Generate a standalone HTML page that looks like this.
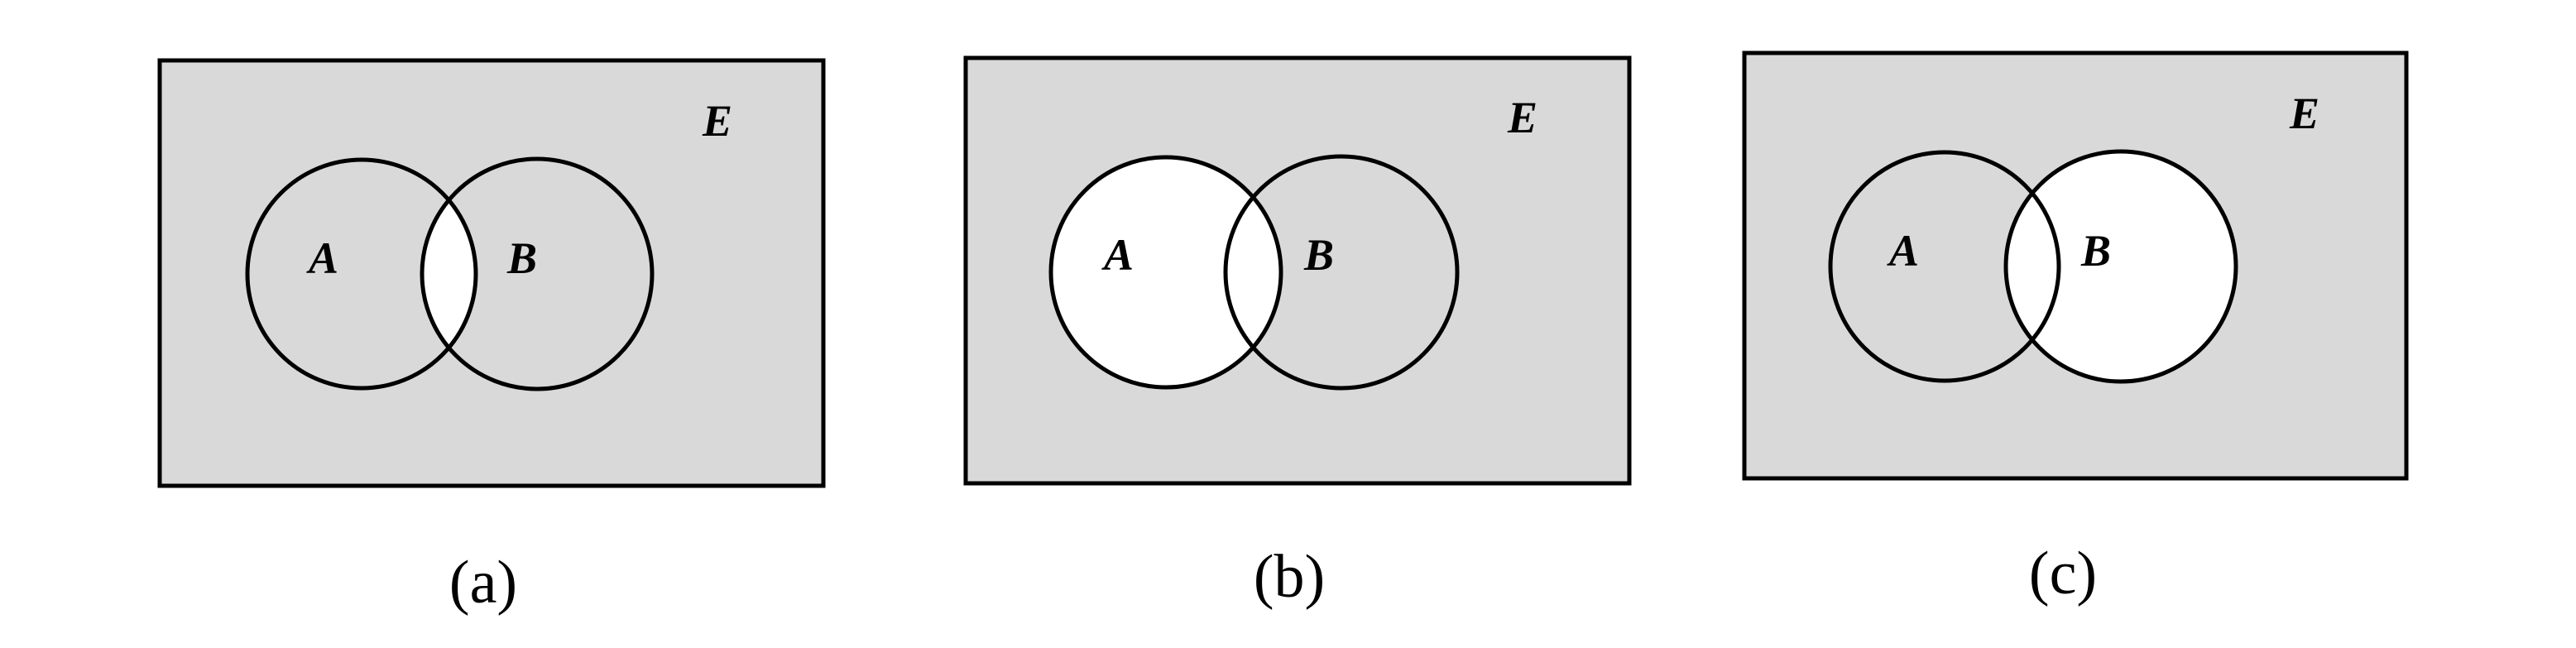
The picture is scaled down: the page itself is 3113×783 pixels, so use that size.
<!DOCTYPE html>
<html><head><meta charset="utf-8"><style>
html,body{margin:0;padding:0;background:#fff;}
svg{display:block;}
.lbl{font-family:"Liberation Serif",serif;font-style:italic;font-weight:bold;font-size:54px;fill:#000;text-anchor:middle;}
.cap{font-family:"Liberation Serif",serif;font-size:74px;fill:#000;text-anchor:middle;}
</style></head><body>
<svg width="3113" height="783" viewBox="0 0 3113 783" xmlns="http://www.w3.org/2000/svg">
<defs>
<clipPath id="clipA1"><circle cx="437" cy="331" r="138"/></clipPath>
</defs>
<g>
<rect x="193" y="73" width="802" height="514" fill="#d9d9d9" stroke="#000" stroke-width="5"/>
<circle cx="649" cy="331" r="139" fill="#fff" clip-path="url(#clipA1)"/>
<circle cx="437" cy="331" r="138" fill="none" stroke="#000" stroke-width="5"/>
<circle cx="649" cy="331" r="139" fill="none" stroke="#000" stroke-width="5"/>
<text class="lbl" x="391" y="330">A</text>
<text class="lbl" x="631" y="330">B</text>
<text class="lbl" x="867" y="164">E</text>
<text class="cap" x="584" y="728">(a)</text>
</g>
<g>
<rect x="1167" y="70" width="802" height="514" fill="#d9d9d9" stroke="#000" stroke-width="5"/>
<circle cx="1409" cy="329" r="139" fill="#fff"/>
<circle cx="1409" cy="329" r="139" fill="none" stroke="#000" stroke-width="5"/>
<circle cx="1621" cy="329" r="140" fill="none" stroke="#000" stroke-width="5"/>
<text class="lbl" x="1352" y="326">A</text>
<text class="lbl" x="1594" y="326">B</text>
<text class="lbl" x="1840" y="160">E</text>
<text class="cap" x="1558" y="721">(b)</text>
</g>
<g>
<rect x="2108" y="64" width="800" height="514" fill="#d9d9d9" stroke="#000" stroke-width="5"/>
<circle cx="2563" cy="322" r="139" fill="#fff"/>
<circle cx="2350" cy="322" r="138" fill="none" stroke="#000" stroke-width="5"/>
<circle cx="2563" cy="322" r="139" fill="none" stroke="#000" stroke-width="5"/>
<text class="lbl" x="2301" y="321">A</text>
<text class="lbl" x="2533" y="321">B</text>
<text class="lbl" x="2785" y="155">E</text>
<text class="cap" x="2493" y="717">(c)</text>
</g>
</svg>
</body></html>
